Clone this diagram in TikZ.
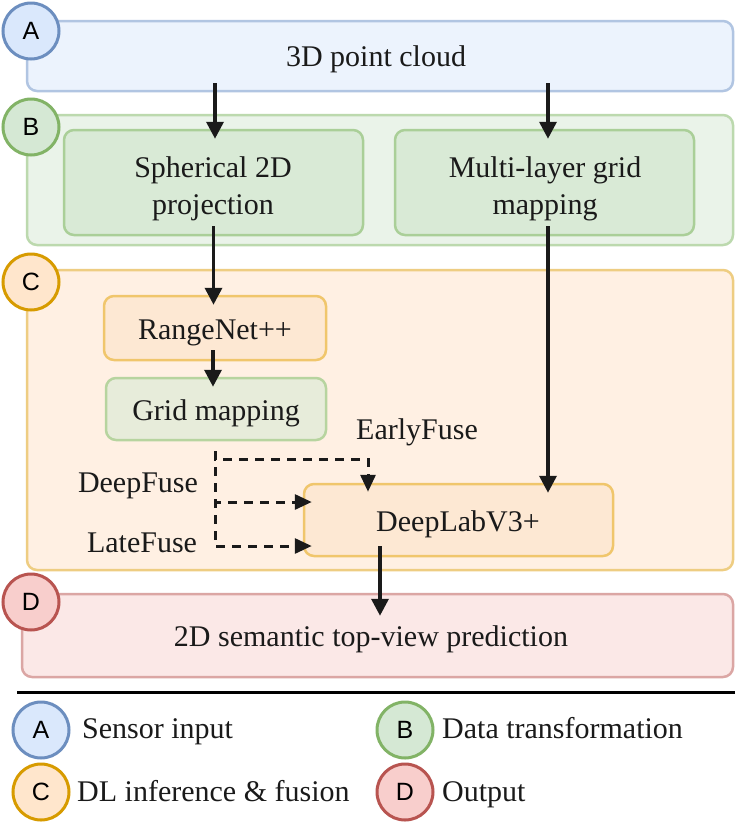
\documentclass[tikz,border=0pt]{standalone}
\usepackage{fontspec}
\setmainfont{Liberation Serif}
\newfontfamily\circfont{Liberation Sans}
\usetikzlibrary{arrows.meta}
\definecolor{aFill}{HTML}{ECF3FD}\definecolor{aLine}{HTML}{B1C5E2}
\definecolor{bFill}{HTML}{EAF3E9}\definecolor{bLine}{HTML}{BCD9AE}
\definecolor{cFill}{HTML}{FFF0E3}\definecolor{cLine}{HTML}{EECD82}
\definecolor{dFill}{HTML}{FBE8E7}\definecolor{dLine}{HTML}{DBA6A4}
\definecolor{gFill}{HTML}{D9EAD6}\definecolor{gLine}{HTML}{AACF98}
\definecolor{gmFill}{HTML}{E7ECDA}\definecolor{gmLine}{HTML}{B7D49F}
\definecolor{oFill}{HTML}{FDE8D3}\definecolor{oLine}{HTML}{F0C66C}
\definecolor{caFill}{HTML}{DAE8FC}\definecolor{caLine}{HTML}{6C8EBF}
\definecolor{cbFill}{HTML}{D5E8D4}\definecolor{cbLine}{HTML}{82B366}
\definecolor{ccFill}{HTML}{FFE6CC}\definecolor{ccLine}{HTML}{D79B00}
\definecolor{cdFill}{HTML}{F8CECC}\definecolor{cdLine}{HTML}{B85450}
\definecolor{ink}{HTML}{1A1A1A}
\begin{document}
\begin{tikzpicture}[x=1pt,y=-1pt,
  txt/.style={font=\fontsize{30}{37}\selectfont, text=ink, inner sep=0pt},
  ctxt/.style={txt, anchor=base, align=center},
  box/.style={draw, line width=2.5pt, rounded corners=10pt, inner sep=0pt},
  badge/.style={circle, draw, line width=3pt, minimum size=56pt, inner sep=0pt,
     font=\circfont\fontsize{25}{30}\selectfont, text=black},
  arr/.style={draw=ink, line width=3.5pt, -{Triangle[length=17pt,width=17pt]}},
  into/.style={shorten >=-10pt},
  darr/.style={draw=ink, line width=3pt, dash pattern=on 9pt off 7pt, -{Triangle[length=17pt,width=15pt]}, shorten >=-9pt},
  lbl/.style={txt, anchor=base west}
]
\useasboundingbox (0,0) rectangle (748,831);
\fill[white] (0,0) rectangle (748,831);

% group boxes
\node[box, fill=aFill, draw=aLine, minimum width=706pt, minimum height=70pt] (A) at (380,56) {};
\node[box, fill=bFill, draw=bLine, minimum width=706pt, minimum height=130pt] (B) at (380,180) {};
\node[box, fill=cFill, draw=cLine, minimum width=706pt, minimum height=300pt] (C) at (380,420) {};
\node[box, fill=dFill, draw=dLine, minimum width=711pt, minimum height=83pt] (D) at (377.5,635.5) {};

% inner boxes
\node[box, fill=gFill, draw=gLine, minimum width=299pt, minimum height=105pt] (sph) at (213.5,182.5) {};
\node[box, fill=gFill, draw=gLine, minimum width=299pt, minimum height=105pt] (mlg) at (544.5,182.5) {};
\node[box, fill=oFill, draw=oLine, minimum width=222pt, minimum height=64pt] (rn) at (215,328) {};
\node[box, fill=gmFill, draw=gmLine, minimum width=220pt, minimum height=62pt] (gm) at (216,409) {};
\node[box, fill=oFill, draw=oLine, minimum width=309pt, minimum height=72pt] (dl) at (458.5,520) {};

% texts
\node[ctxt] (tAbox) at (376,66) {3D point cloud};
\node[ctxt] (tsph1) at (213,177) {Spherical 2D};
\node[ctxt] (tsph2) at (213,214) {projection};
\node[ctxt] (tmlg1) at (545,177) {Multi-layer grid};
\node[ctxt] (tmlg2) at (545,214) {mapping};
\node[ctxt] (trn) at (215,339) {RangeNet++};
\node[ctxt] (tgm) at (216,420) {Grid mapping};
\node[ctxt] (tdl) at (458,531) {DeepLabV3+};
\node[ctxt] (tDbox) at (371,646) {2D semantic top-view prediction};

% badges
\node[badge, fill=caFill, draw=caLine] (bA) at (31,31) {A};
\node[badge, fill=cbFill, draw=cbLine] (bB) at (31,127) {B};
\node[badge, fill=ccFill, draw=ccLine] (bC) at (31,282) {C};
\node[badge, fill=cdFill, draw=cdLine] (bD) at (31,602) {D};

% solid arrows
\draw[arr, into] ([xshift=1.5pt,yshift=9pt]A.south -| sph.north) -- ([xshift=1.5pt]sph.north);
\draw[arr, into] ([xshift=3.5pt,yshift=9pt]A.south -| mlg.north) -- ([xshift=3.5pt]mlg.north);
\draw[arr, into] ([yshift=10pt]sph.south) -- (sph.south |- rn.north);
\draw[arr, into] ([xshift=3.5pt,yshift=10pt]mlg.south) -- ([xshift=3.5pt]mlg.south |- dl.north);
\draw[arr, into] ([xshift=-2pt,yshift=11pt]rn.south) -- ([xshift=-3pt]gm.north);
\coordinate (dlout) at ([xshift=-78.5pt,yshift=11pt]dl.south);
\draw[arr] (dlout) -- ([yshift=-23pt]dlout |- D.north);

% dashed fusion connectors
\coordinate (fs) at ([xshift=-1pt,yshift=-10pt]gm.south);
\draw[darr] (fs) -- ++(0,8) -| ([xshift=-90.5pt]dl.north);
\draw[darr] (fs) |- ([yshift=18pt]dl.west);
\draw[darr] (fs) |- ([yshift=-26pt]dl.west);

\node[ctxt] (early) at (417,439) {EarlyFuse};
\node[ctxt] (deep) at (138,492) {DeepFuse};
\node[ctxt] (late) at (142,552) {LateFuse};

% separator
\coordinate (s1) at (17,692); \coordinate (s2) at (735,692);
\draw[line width=3pt, black] (s1) -- (s2);

% legend
\node[badge, fill=caFill, draw=caLine] (lA) at (41,730) {A};
\node[badge, fill=cbFill, draw=cbLine] (lB) at (405,730) {B};
\node[badge, fill=ccFill, draw=ccLine] (lC) at (41,792) {C};
\node[badge, fill=cdFill, draw=cdLine] (lD) at (405,792) {D};
\node[lbl] (tA) at (82,738) {Sensor input};
\node[lbl] (tB) at (442,738) {Data transformation};
\node[lbl] (tC) at (77,801) {DL inference \& fusion};
\node[lbl] (tD) at (442,801) {Output};
\end{tikzpicture}
\end{document}
